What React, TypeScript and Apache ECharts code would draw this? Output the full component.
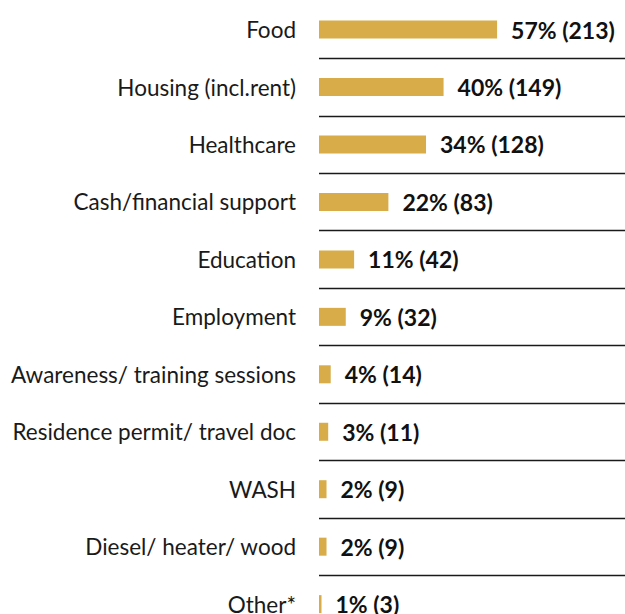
import React, { useEffect, useRef } from "react";
import * as echarts from "echarts";

const categories = [
  "Food",
  "Housing (incl.rent)",
  "Healthcare",
  "Cash/financial support",
  "Education",
  "Employment",
  "Awareness/ training sessions",
  "Residence permit/ travel doc",
  "WASH",
  "Diesel/ heater/ wood",
  "Other*",
];
const counts = [213, 149, 128, 83, 42, 32, 14, 11, 9, 9, 3];
const percents = [57, 40, 34, 22, 11, 9, 4, 3, 2, 2, 1];

export default function App() {
  const ref = useRef<HTMLDivElement>(null);
  useEffect(() => {
    const chart = echarts.init(ref.current!, undefined, { renderer: "svg" });
    chart.setOption({
      animation: false,
      grid: { left: 319, right: 0, top: 0.85, height: 632, outerBoundsMode: "none" },
      xAxis: {
        type: "value",
        min: 0,
        max: 366,
        show: false,
      },
      yAxis: {
        type: "category",
        data: categories,
        inverse: true,
        axisLine: { show: false },
        axisTick: { show: false },
        axisLabel: {
          margin: 23,
          fontFamily: "Lato",
          fontSize: 22.5,
          color: "#1a1a1a",
        },
        splitLine: {
          show: true,
          interval: (i: number) => i !== 0,
          lineStyle: { color: "#1a1a1a", width: 1.3 },
        },
      },
      series: [
        {
          type: "bar",
          data: counts,
          barWidth: 18,
          itemStyle: { color: "#D8AC48" },
          label: {
            show: true,
            position: "right",
            distance: 14,
            fontFamily: "Lato",
            fontWeight: "bold",
            fontSize: 23,
            color: "#111",
            formatter: (p: any) => `${percents[p.dataIndex]}% (${counts[p.dataIndex]})`,
          },
        },
      ],
    });
    return () => chart.dispose();
  }, []);
  return (
    <div
      style={{
        position: "fixed",
        left: 0,
        top: 0,
        width: 625,
        height: 614,
        overflow: "hidden",
        background: "#fff",
      }}
    >
      <div ref={ref} style={{ width: 625, height: 650 }} />
    </div>
  );
}
